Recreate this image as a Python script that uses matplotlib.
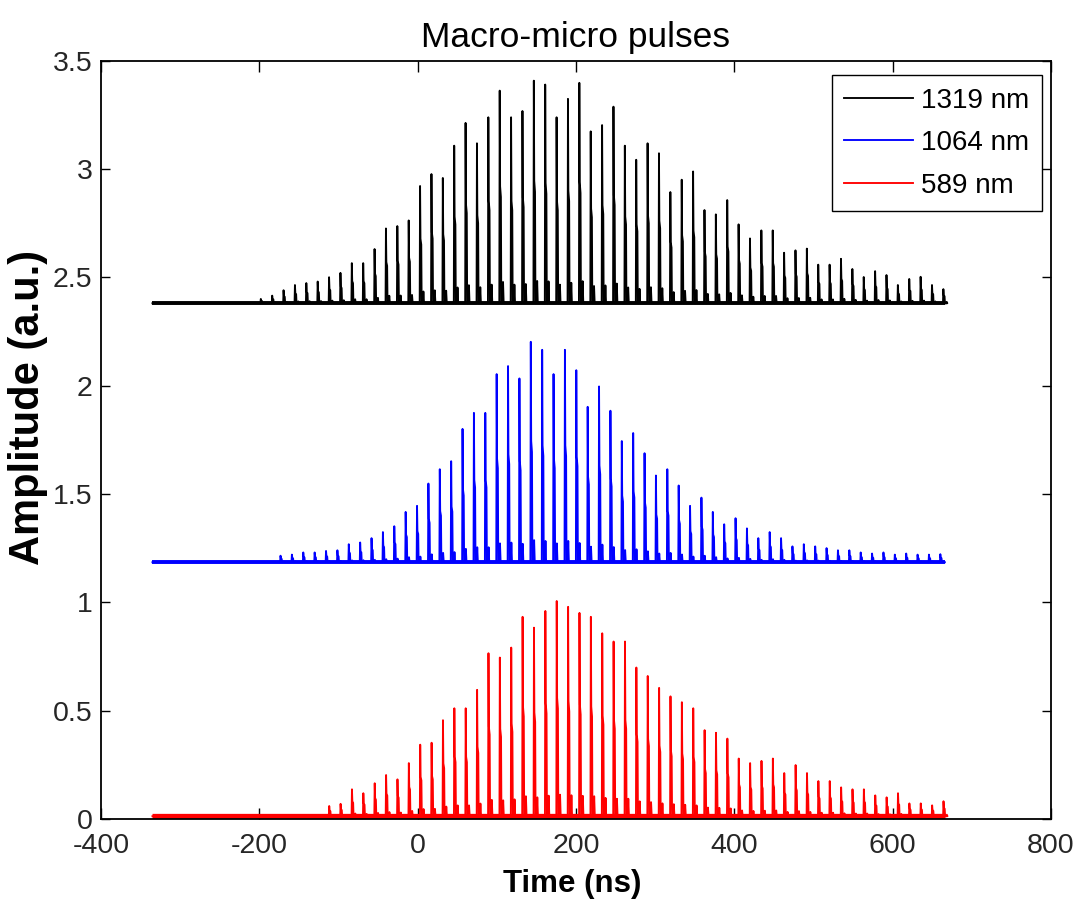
import numpy as np
import matplotlib
matplotlib.use("Agg")
import matplotlib.pyplot as plt

# ---- data -------------------------------------------------------------
period_ns = 14.37           # micro-pulse spacing
trace_start, trace_end = -335.0, 666.0

# 1319 nm (offset trace)
t0_1319 = -198.1
base_1319 = 2.38
peaks_1319 = [2.40, 2.415, 2.44, 2.464, 2.473, 2.48, 2.50, 2.52, 2.565, 2.565,
              2.63, 2.725, 2.736, 2.762, 2.921, 2.976, 2.958, 3.107, 3.212, 3.118,
              3.238, 3.361, 3.238, 3.267, 3.407, 3.389, 3.238, 3.323, 3.397, 3.173,
              3.202, 3.287, 3.107, 3.042, 3.118, 3.072, 2.893, 2.95, 2.988, 2.81,
              2.79, 2.856, 2.744, 2.679, 2.716, 2.716, 2.613, 2.624, 2.632, 2.558,
              2.558, 2.585, 2.538, 2.501, 2.528, 2.51, 2.464, 2.492, 2.502, 2.464,
              2.445]

# 1064 nm (offset trace)
t0_1064 = -173.2
base_1064 = 1.185
peaks_1064 = [1.215, 1.22, 1.23, 1.23, 1.237, 1.24, 1.268, 1.276, 1.296, 1.324,
              1.351, 1.417, 1.445, 1.548, 1.614, 1.651, 1.80, 1.874, 1.874, 2.053,
              2.09, 2.033, 2.202, 2.165, 2.053, 2.165, 2.071, 1.902, 1.996, 1.884,
              1.744, 1.781, 1.688, 1.585, 1.614, 1.539, 1.445, 1.483, 1.417, 1.36,
              1.388, 1.341, 1.296, 1.324, 1.296, 1.258, 1.268, 1.258, 1.25, 1.24,
              1.24, 1.23, 1.225, 1.23, 1.22, 1.225, 1.22, 1.22, 1.222]

# 589 nm
t0_589 = -111.7
base_589 = 0.013
peaks_589 = [0.06, 0.07, 0.137, 0.119, 0.165, 0.203, 0.183, 0.258, 0.343, 0.352,
             0.456, 0.511, 0.511, 0.596, 0.765, 0.745, 0.791, 0.933, 0.883, 0.96,
             1.006, 0.979, 0.951, 0.933, 0.857, 0.819, 0.819, 0.699, 0.66, 0.605,
             0.566, 0.539, 0.511, 0.41, 0.398, 0.371, 0.279, 0.258, 0.268, 0.279,
             0.212, 0.249, 0.212, 0.175, 0.175, 0.146, 0.137, 0.137, 0.109, 0.10,
             0.119, 0.072, 0.072, 0.063, 0.082]

labels = ["1319 nm", "1064 nm", "589 nm"]
colors = ["black", "#0000ff", "#ff0000"]

x_ticks = [-400, -200, 0, 200, 400, 600, 800]
y_ticks = [0, 0.5, 1, 1.5, 2, 2.5, 3, 3.5]
y_tick_labels = ["0", "0.5", "1", "1.5", "2", "2.5", "3", "3.5"]


def pulse_trace(t0, peaks, base):
    """Photodiode-like trace: each micro-pulse is a sharp spike with a
    short shoulder and a small ringing echo a few ns later."""
    xs, ys = [trace_start], [base]
    for k, h in enumerate(peaks):
        t = t0 + k * period_ns
        a = h - base
        xs += [t - 0.5, t, t + 0.5, t + 1.5, t + 2.0, t + 3.5, t + 4.2, t + 5.0]
        ys += [base, h, base + 0.55 * a, base + 0.5 * a, base, base,
               base + 0.1 * a, base]
    xs.append(trace_end)
    ys.append(base)
    return np.array(xs), np.array(ys)


plt.rcParams["font.family"] = ["Liberation Sans", "DejaVu Sans"]

fig = plt.figure(figsize=(10.8, 9.06), dpi=100)
ax = fig.add_axes([0.0935, 0.0960, 0.8796, 0.8372])

series = [(t0_1319, peaks_1319, base_1319),
          (t0_1064, peaks_1064, base_1064),
          (t0_589, peaks_589, base_589)]
noise_lw = [2.8, 2.8, 3.8]

for (t0, pk, base), lab, col, nlw in zip(series, labels, colors, noise_lw):
    # noise floor of the detector
    ax.plot([trace_start, trace_end], [base, base], color=col, lw=nlw,
            solid_capstyle="butt")
    x, y = pulse_trace(t0, pk, base)
    ax.plot(x, y, color=col, lw=1.35, label=lab)

ax.set_xlim(-400, 800)
ax.set_ylim(0, 3.5)
ax.set_xticks(x_ticks)
ax.set_yticks(y_ticks)
ax.set_xticklabels([str(v) for v in x_ticks])
ax.set_yticklabels(y_tick_labels)
ax.set_axisbelow(True)

ax.tick_params(axis="both", direction="in", top=True, right=True,
               labelsize=20.5, labelcolor="#262626", width=1.0)
ax.tick_params(axis="x", length=8, pad=10)
ax.tick_params(axis="y", length=6.5, pad=6)
for s in ax.spines.values():
    s.set_linewidth(1.3)

ax.set_title("Macro-micro pulses", fontsize=25.5, pad=10)
ax.set_xlabel("Time (ns)", fontsize=22.5, fontweight="bold")
ax.xaxis.set_label_coords(0.496, -0.066)
ax.set_ylabel("Amplitude (a.u.)", fontsize=30, fontweight="bold")
ax.yaxis.set_label_coords(-0.056, 0.543)

leg = ax.legend(loc="upper right", bbox_to_anchor=(0.9902, 0.9809),
                borderaxespad=0, fontsize=20, handlelength=2.45,
                handletextpad=0.3, labelspacing=0.6, borderpad=0.45,
                fancybox=False, framealpha=1, edgecolor="black")
leg.get_frame().set_linewidth(1.0)

fig.savefig("out.png", dpi=100)
